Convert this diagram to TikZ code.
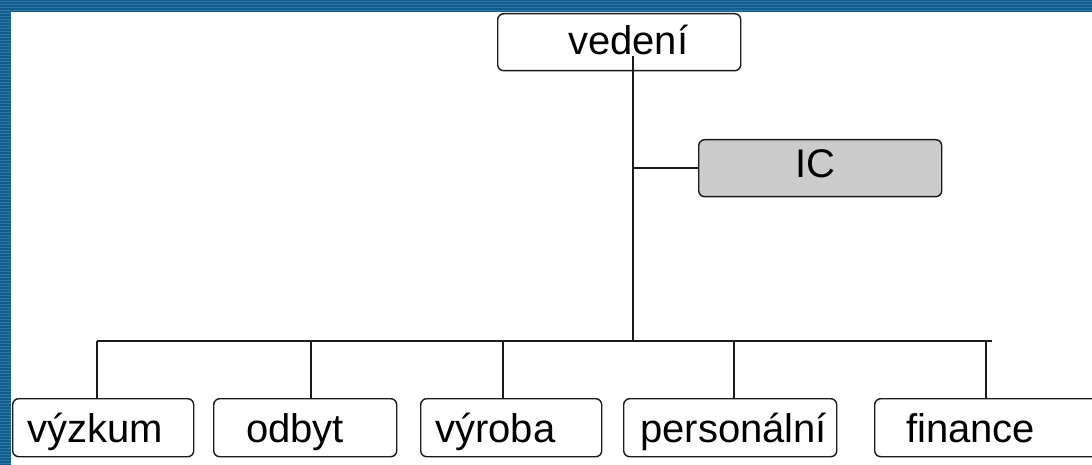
\documentclass[tikz,border=0pt]{standalone}
\usepackage{fontspec}
\setmainfont{Liberation Sans}
\definecolor{bandA}{HTML}{135C8C}
\definecolor{bandB}{HTML}{2B7BA6}
\definecolor{icgray}{HTML}{CCCCCC}
\definecolor{ln}{HTML}{1A1A1A}
\tikzset{
  box/.style={draw=ln, line width=1.4pt, rounded corners=6pt, fill=white, inner sep=0pt, anchor=north west},
  lbl/.style={inner sep=0pt, anchor=base west, font=\fontsize{40pt}{48pt}\selectfont},
  conn/.style={draw=ln, line width=1.4pt}
}
\begin{document}
\begin{tikzpicture}[x=1pt,y=-1pt]
\useasboundingbox (0,0) rectangle (1092,465);
\fill[white] (0,0) rectangle (1092,465);
% blue border bands
\fill[bandA] (0,0) rectangle (1092,12);
\fill[bandA] (0,0) rectangle (11,465);
\foreach \yy in {1.5,4.5,...,465} {
  \draw[bandB, line width=1pt] (0,\yy) -- (11,\yy);
}
\foreach \yy in {1.5,4.5,7.5,10.5} {
  \draw[bandB, line width=1pt] (11,\yy) -- (1092,\yy);
}
% boxes
\node[box, minimum width=243pt, minimum height=57pt] (ved) at (497,13) {};
\node[box, fill=icgray, minimum width=243pt, minimum height=57pt] (ic) at (698,139) {};
\node[box, minimum width=181pt, minimum height=58pt] (vyz) at (12,398) {};
\node[box, minimum width=183pt, minimum height=58pt] (odb) at (213,398) {};
\node[box, minimum width=181pt, minimum height=58pt] (vyr) at (420,398) {};
\node[box, minimum width=213pt, minimum height=58pt] (per) at (623,398) {};
\node[box, minimum width=240pt, minimum height=58pt] (fin) at (874,398) {};
% labels
\node[lbl] (tved) at (568,55) {vedení};
\node[lbl] (tic) at (795,178) {IC};
\node[lbl] (tvyz) at (27,442) {výzkum};
\node[lbl] (todb) at (246,442) {odbyt};
\node[lbl] (tvyr) at (435,442) {výroba};
\node[lbl] (tper) at (640,442) {personální};
\node[lbl] (tfin) at (906,442) {finance};
% connectors
\coordinate (j) at (633,341);
\coordinate (tl) at (97,341);
\coordinate (tr) at (992,341);
\coordinate (d1) at (97,341);
\coordinate (d2) at (311,341);
\coordinate (d3) at (503,341);
\coordinate (d4) at (734,341);
\coordinate (d5) at (986,341);
\draw[conn] (tved.south -| j) -- (j);
\draw[conn] (ic.west) -- (ic.west -| j);
\draw[conn] (tl) -- (tr);
\draw[conn] (d1) -- (d1 |- vyz.north);
\draw[conn] (d2) -- (d2 |- odb.north);
\draw[conn] (d3) -- (d3 |- vyr.north);
\draw[conn] (d4) -- (d4 |- per.north);
\draw[conn] (d5) -- (d5 |- fin.north);
\end{tikzpicture}
\end{document}
